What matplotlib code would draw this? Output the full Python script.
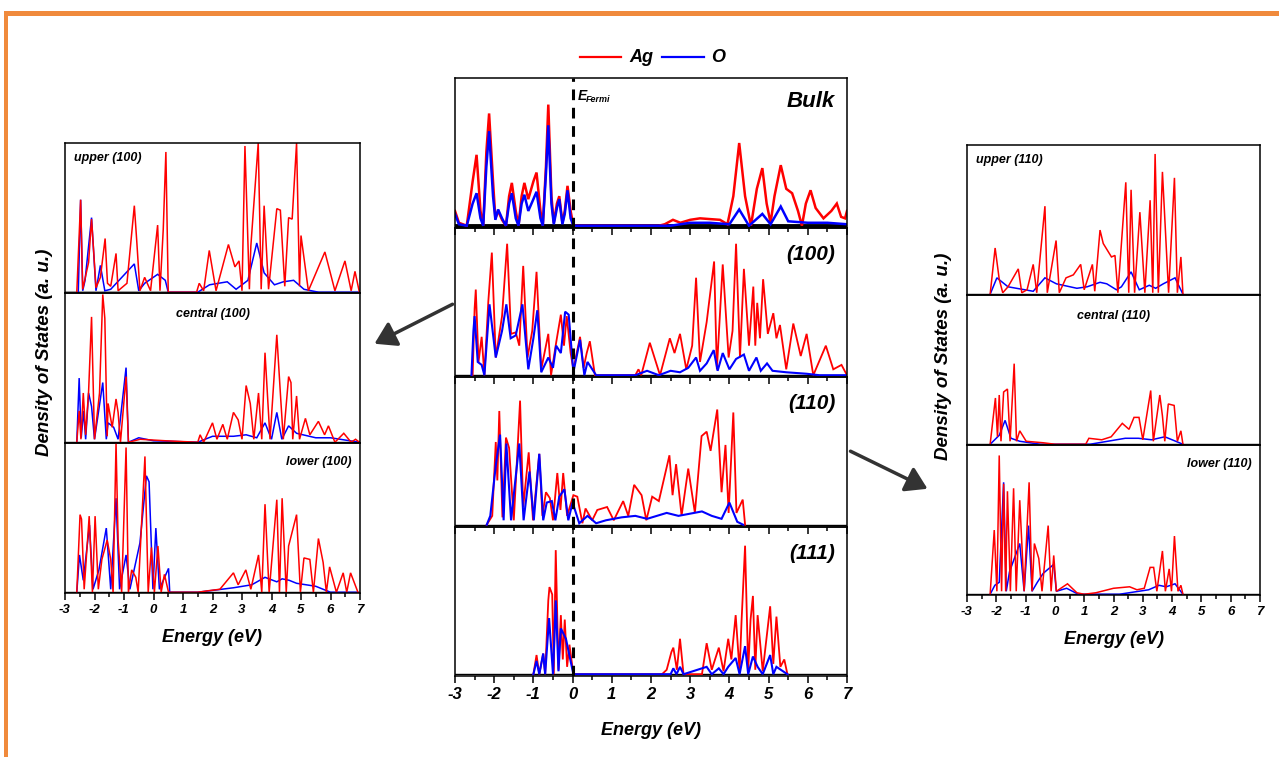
import numpy as np
import matplotlib
matplotlib.use("Agg")
import matplotlib.pyplot as plt
from matplotlib.patches import FancyArrowPatch, Rectangle
from matplotlib.ticker import MultipleLocator

plt.rcParams['font.family'] = ['Liberation Sans', 'DejaVu Sans']
plt.rcParams['font.weight'] = 'bold'
plt.rcParams['font.style'] = 'italic'
plt.rcParams['axes.labelweight'] = 'bold'
plt.rcParams['axes.unicode_minus'] = False

# ---- data: (energy eV, DOS a.u.) ----
bulk_ag = [(-3.0,0.10),(-2.9,0.02),(-2.7,0.0),(-2.55,0.3),(-2.45,0.48),(-2.35,0.1),(-2.28,0.0),(-2.2,0.5),(-2.13,0.76),(-2.03,0.3),(-1.97,0.05),(-1.9,0.1),(-1.8,0.04),(-1.7,0.0),(-1.62,0.2),(-1.55,0.29),(-1.45,0.1),(-1.38,0.0),(-1.3,0.2),(-1.23,0.29),(-1.13,0.18),(-1.0,0.3),(-0.92,0.36),(-0.82,0.1),(-0.76,0.0),(-0.68,0.4),(-0.62,0.82),(-0.54,0.2),(-0.48,0.02),(-0.4,0.15),(-0.34,0.20),(-0.26,0.02),(-0.2,0.1),(-0.13,0.27),(-0.05,0.1),(0.02,0.0),(2.2,0.0),(2.35,0.01),(2.56,0.04),(2.75,0.02),(3.0,0.04),(3.25,0.05),(3.5,0.045),(3.76,0.04),(3.95,0.01),(4.1,0.2),(4.25,0.56),(4.4,0.2),(4.55,0.0),(4.7,0.25),(4.84,0.39),(4.95,0.15),(5.05,0.02),(5.15,0.2),(5.31,0.41),(5.45,0.25),(5.6,0.22),(5.75,0.1),(5.85,0.0),(5.95,0.15),(6.07,0.24),(6.2,0.12),(6.4,0.05),(6.6,0.1),(6.74,0.15),(6.85,0.06),(6.95,0.05),(7.0,0.1)]
bulk_o = [(-3.0,0.08),(-2.9,0.01),(-2.7,0.0),(-2.55,0.15),(-2.45,0.22),(-2.35,0.05),(-2.28,0.0),(-2.2,0.4),(-2.13,0.64),(-2.03,0.2),(-1.97,0.04),(-1.9,0.11),(-1.8,0.05),(-1.7,0.0),(-1.62,0.15),(-1.55,0.22),(-1.45,0.05),(-1.38,0.0),(-1.3,0.15),(-1.23,0.21),(-1.13,0.1),(-1.0,0.18),(-0.92,0.23),(-0.82,0.05),(-0.76,0.0),(-0.68,0.35),(-0.62,0.68),(-0.54,0.15),(-0.48,0.01),(-0.4,0.12),(-0.34,0.18),(-0.26,0.01),(-0.2,0.08),(-0.13,0.24),(-0.05,0.05),(0.02,0.0),(2.5,0.0),(3.0,0.02),(3.5,0.02),(4.0,0.01),(4.25,0.11),(4.5,0.0),(4.84,0.08),(5.05,0.01),(5.31,0.13),(5.5,0.03),(6.0,0.02),(6.5,0.02),(7.0,0.01)]

s100_ag = [(-2.55,0.0),(-2.5,0.45),(-2.47,0.58),(-2.4,0.09),(-2.32,0.26),(-2.25,0.0),(-2.15,0.5),(-2.06,0.83),(-1.96,0.12),(-1.8,0.4),(-1.67,0.89),(-1.57,0.28),(-1.45,0.29),(-1.36,0.2),(-1.26,0.74),(-1.15,0.12),(-1.03,0.3),(-0.92,0.70),(-0.8,0.04),(-0.62,0.28),(-0.55,0.0),(-0.42,0.22),(-0.30,0.41),(-0.22,0.2),(-0.15,0.40),(-0.05,0.15),(0.02,0.04),(0.19,0.26),(0.28,0.05),(0.36,0.15),(0.44,0.23),(0.57,0.0),(1.6,0.0),(1.68,0.04),(1.75,0.0),(1.97,0.22),(2.23,0.0),(2.48,0.25),(2.6,0.15),(2.74,0.28),(2.9,0.04),(3.05,0.2),(3.15,0.66),(3.25,0.09),(3.42,0.36),(3.61,0.77),(3.68,0.04),(3.83,0.75),(3.98,0.12),(4.08,0.3),(4.17,0.89),(4.27,0.12),(4.37,0.72),(4.5,0.2),(4.61,0.60),(4.66,0.2),(4.71,0.49),(4.78,0.25),(4.86,0.65),(4.98,0.28),(5.12,0.42),(5.2,0.25),(5.29,0.34),(5.45,0.04),(5.63,0.35),(5.82,0.13),(5.97,0.28),(6.14,0.0),(6.3,0.1),(6.46,0.20),(6.65,0.04),(6.86,0.07),(7.0,0.0)]
s100_o = [(-2.58,0.0),(-2.53,0.3),(-2.5,0.40),(-2.42,0.09),(-2.32,0.07),(-2.25,0.0),(-2.12,0.48),(-1.96,0.12),(-1.8,0.3),(-1.69,0.48),(-1.58,0.25),(-1.45,0.27),(-1.28,0.48),(-1.13,0.04),(-1.0,0.25),(-0.9,0.44),(-0.8,0.02),(-0.62,0.12),(-0.5,0.05),(-0.42,0.2),(-0.3,0.15),(-0.19,0.43),(-0.1,0.41),(0.02,0.02),(0.19,0.24),(0.3,0.0),(0.38,0.09),(0.6,0.0),(1.6,0.0),(1.9,0.03),(2.2,0.0),(2.5,0.03),(2.74,0.02),(2.95,0.05),(3.15,0.12),(3.25,0.03),(3.42,0.08),(3.6,0.17),(3.7,0.03),(3.83,0.15),(4.0,0.04),(4.17,0.11),(4.37,0.14),(4.5,0.03),(4.69,0.12),(4.8,0.03),(4.96,0.08),(5.1,0.03),(5.45,0.02),(5.97,0.01),(6.3,0.0),(7.0,0.0)]

s110_ag = [(-2.19,0.0),(-2.05,0.06),(-1.96,0.56),(-1.92,0.3),(-1.87,0.77),(-1.79,0.05),(-1.70,0.59),(-1.62,0.52),(-1.5,0.03),(-1.34,0.84),(-1.26,0.12),(-1.12,0.49),(-1.01,0.03),(-0.85,0.48),(-0.77,0.06),(-0.68,0.22),(-0.58,0.18),(-0.5,0.03),(-0.39,0.35),(-0.31,0.1),(-0.24,0.35),(-0.14,0.06),(0.02,0.20),(0.12,0.19),(0.25,0.01),(0.33,0.11),(0.5,0.03),(0.63,0.10),(0.88,0.12),(1.05,0.03),(1.29,0.16),(1.42,0.06),(1.57,0.27),(1.76,0.20),(1.88,0.03),(2.03,0.19),(2.2,0.16),(2.47,0.47),(2.55,0.2),(2.64,0.41),(2.78,0.06),(2.95,0.38),(3.12,0.08),(3.29,0.60),(3.42,0.63),(3.52,0.50),(3.69,0.78),(3.8,0.22),(3.9,0.54),(3.98,0.08),(4.10,0.76),(4.18,0.08),(4.34,0.17),(4.4,0.0)]
s110_o = [(-2.19,0.0),(-2.1,0.06),(-1.96,0.40),(-1.85,0.61),(-1.76,0.03),(-1.69,0.55),(-1.57,0.03),(-1.36,0.55),(-1.25,0.03),(-1.1,0.36),(-0.99,0.03),(-0.85,0.48),(-0.75,0.03),(-0.66,0.15),(-0.53,0.16),(-0.44,0.03),(-0.34,0.19),(-0.21,0.24),(-0.11,0.03),(0.0,0.15),(0.17,0.01),(0.38,0.06),(0.6,0.01),(0.85,0.03),(1.25,0.05),(1.6,0.06),(1.9,0.04),(2.4,0.08),(2.7,0.06),(3.1,0.08),(3.3,0.09),(3.55,0.06),(3.8,0.04),(4.0,0.15),(4.2,0.02),(4.35,0.0)]

s111_ag = [(-1.0,0.0),(-0.92,0.13),(-0.85,0.0),(-0.75,0.14),(-0.7,0.0),(-0.62,0.5),(-0.59,0.59),(-0.52,0.54),(-0.48,0.0),(-0.43,0.84),(-0.36,0.03),(-0.3,0.40),(-0.25,0.1),(-0.2,0.37),(-0.14,0.05),(-0.08,0.20),(0.02,0.0),(2.28,0.0),(2.4,0.03),(2.52,0.15),(2.57,0.18),(2.66,0.03),(2.74,0.24),(2.83,0.0),(3.3,0.0),(3.42,0.21),(3.55,0.03),(3.73,0.18),(3.85,0.02),(3.97,0.24),(4.05,0.1),(4.16,0.40),(4.26,0.02),(4.31,0.36),(4.40,0.87),(4.48,0.03),(4.54,0.37),(4.6,0.53),(4.66,0.03),(4.72,0.40),(4.85,0.02),(5.04,0.46),(5.12,0.07),(5.2,0.39),(5.3,0.05),(5.4,0.10),(5.48,0.0)]
s111_o = [(-1.0,0.0),(-0.92,0.09),(-0.85,0.0),(-0.75,0.14),(-0.7,0.0),(-0.6,0.38),(-0.5,0.0),(-0.43,0.50),(-0.36,0.02),(-0.3,0.31),(-0.17,0.24),(-0.06,0.1),(0.02,0.0),(2.5,0.0),(2.57,0.04),(2.65,0.0),(2.74,0.05),(2.83,0.0),(3.42,0.05),(3.55,0.0),(3.73,0.04),(3.85,0.0),(3.97,0.05),(4.16,0.11),(4.26,0.0),(4.40,0.19),(4.48,0.0),(4.6,0.12),(4.72,0.05),(4.85,0.0),(5.04,0.13),(5.12,0.0),(5.2,0.05),(5.48,0.0)]

up100_ag = [(-2.60,0.0),(-2.47,0.62),(-2.4,0.02),(-2.2,0.2),(-2.10,0.49),(-2.03,0.28),(-1.95,0.03),(-1.8,0.1),(-1.64,0.36),(-1.56,0.06),(-1.45,0.04),(-1.27,0.26),(-1.2,0.01),(-0.9,0.06),(-0.65,0.58),(-0.57,0.35),(-0.46,0.01),(-0.3,0.10),(-0.1,0.01),(0.14,0.45),(0.22,0.01),(0.33,0.42),(0.42,0.94),(0.5,0.0),(1.46,0.0),(1.55,0.06),(1.7,0.01),(1.89,0.28),(2.12,0.01),(2.54,0.32),(2.76,0.17),(2.9,0.21),(3.0,0.01),(3.10,0.98),(3.25,0.02),(3.3,0.31),(3.55,1.0),(3.65,0.02),(3.75,0.58),(3.9,0.02),(4.18,0.56),(4.3,0.55),(4.45,0.04),(4.58,0.50),(4.7,0.49),(4.85,1.0),(4.95,0.04),(5.0,0.38),(5.25,0.01),(5.81,0.27),(6.15,0.01),(6.49,0.21),(6.7,0.01),(6.83,0.14),(6.98,0.0)]
up100_o = [(-2.55,0.0),(-2.47,0.62),(-2.4,0.01),(-2.32,0.08),(-2.1,0.50),(-1.95,0.01),(-1.8,0.18),(-1.65,0.01),(-1.45,0.02),(-0.65,0.19),(-0.5,0.01),(-0.3,0.06),(0.14,0.12),(0.4,0.08),(0.5,0.0),(1.5,0.0),(1.9,0.05),(2.5,0.07),(2.8,0.02),(3.2,0.08),(3.5,0.33),(3.75,0.13),(4.1,0.05),(4.4,0.07),(4.75,0.08),(5.1,0.02),(5.6,0.0),(6.5,0.0),(6.98,0.0)]

cen100_ag = [(-2.60,0.0),(-2.52,0.21),(-2.46,0.02),(-2.38,0.33),(-2.3,0.05),(-2.2,0.34),(-2.10,0.84),(-2.0,0.02),(-1.83,0.33),(-1.72,0.99),(-1.65,0.83),(-1.57,0.04),(-1.54,0.26),(-1.40,0.1),(-1.27,0.29),(-1.2,0.2),(-1.12,0.0),(-0.93,0.44),(-0.85,0.0),(-0.45,0.02),(0.4,0.01),(1.5,0.0),(1.58,0.05),(1.7,0.0),(2.0,0.13),(2.15,0.02),(2.35,0.12),(2.5,0.02),(2.71,0.20),(2.87,0.15),(3.0,0.02),(3.14,0.38),(3.28,0.26),(3.4,0.02),(3.56,0.33),(3.67,0.02),(3.78,0.60),(3.95,0.02),(4.18,0.72),(4.3,0.33),(4.4,0.02),(4.58,0.44),(4.66,0.40),(4.72,0.02),(4.85,0.31),(4.95,0.02),(5.15,0.16),(5.3,0.05),(5.59,0.14),(5.8,0.05),(5.93,0.11),(6.15,0.0),(6.45,0.06),(6.7,0.0),(6.85,0.02),(6.98,0.0)]
cen100_o = [(-2.6,0.0),(-2.52,0.43),(-2.45,0.03),(-2.37,0.21),(-2.3,0.02),(-2.2,0.33),(-2.1,0.24),(-2.0,0.02),(-1.72,0.40),(-1.6,0.02),(-1.54,0.13),(-1.35,0.1),(-1.2,0.02),(-0.93,0.50),(-0.85,0.0),(-0.5,0.03),(0.0,0.01),(1.5,0.0),(2.0,0.04),(2.71,0.04),(3.14,0.05),(3.5,0.03),(3.78,0.13),(4.0,0.02),(4.18,0.20),(4.35,0.02),(4.58,0.11),(4.85,0.06),(5.5,0.03),(6.0,0.03),(6.98,0.0)]

low100_ag = [(-2.60,0.0),(-2.49,0.52),(-2.44,0.49),(-2.35,0.02),(-2.18,0.51),(-2.07,0.0),(-1.98,0.51),(-1.87,0.02),(-1.75,0.22),(-1.57,0.35),(-1.45,0.22),(-1.37,0.0),(-1.27,1.0),(-1.2,0.35),(-1.08,0.0),(-0.93,0.97),(-0.85,0.0),(-0.74,0.15),(-0.6,0.1),(-0.52,0.0),(-0.46,0.24),(-0.29,0.91),(-0.18,0.0),(-0.07,0.30),(0.03,0.0),(0.15,0.31),(0.26,0.0),(0.37,0.12),(0.51,0.0),(1.5,0.0),(1.85,0.01),(2.25,0.02),(2.71,0.13),(2.87,0.05),(3.13,0.15),(3.3,0.02),(3.56,0.25),(3.67,0.0),(3.78,0.59),(3.92,0.0),(4.18,0.62),(4.27,0.0),(4.36,0.63),(4.5,0.0),(4.58,0.31),(4.85,0.52),(4.98,0.0),(5.1,0.23),(5.3,0.22),(5.42,0.0),(5.59,0.36),(5.75,0.20),(5.86,0.0),(5.97,0.17),(6.2,0.0),(6.43,0.13),(6.55,0.0),(6.68,0.13),(6.93,0.0)]
low100_o = [(-2.60,0.0),(-2.51,0.25),(-2.38,0.08),(-2.17,0.45),(-2.05,0.02),(-1.85,0.15),(-1.6,0.43),(-1.45,0.02),(-1.27,0.63),(-1.15,0.02),(-0.93,0.25),(-0.8,0.02),(-0.46,0.33),(-0.24,0.78),(-0.15,0.74),(-0.02,0.02),(0.08,0.43),(0.2,0.02),(0.51,0.16),(0.55,0.0),(1.5,0.0),(2.71,0.03),(3.33,0.05),(3.78,0.10),(4.18,0.07),(4.36,0.09),(4.6,0.08),(4.85,0.06),(5.5,0.04),(6.0,0.0),(6.93,0.0)]

up110_ag = [(-2.21,0.0),(-2.04,0.31),(-1.9,0.1),(-1.78,0.01),(-1.6,0.05),(-1.25,0.17),(-1.13,0.01),(-0.95,0.03),(-0.74,0.20),(-0.62,0.01),(-0.34,0.59),(-0.26,0.01),(0.04,0.36),(0.15,0.01),(0.38,0.11),(0.63,0.13),(0.88,0.20),(1.0,0.03),(1.28,0.20),(1.36,0.02),(1.54,0.43),(1.65,0.34),(1.93,0.25),(2.05,0.26),(2.15,0.01),(2.42,0.75),(2.52,0.01),(2.6,0.70),(2.72,0.01),(2.90,0.55),(3.07,0.01),(3.25,0.63),(3.34,0.01),(3.42,0.94),(3.53,0.01),(3.67,0.82),(3.88,0.01),(4.08,0.78),(4.18,0.01),(4.3,0.25),(4.37,0.0)]
up110_o = [(-2.21,0.0),(-1.98,0.11),(-1.6,0.05),(-0.74,0.02),(-0.34,0.11),(0.05,0.07),(0.75,0.04),(1.1,0.05),(1.54,0.08),(1.77,0.07),(2.1,0.03),(2.27,0.05),(2.6,0.15),(2.88,0.03),(3.22,0.06),(3.44,0.04),(3.7,0.07),(4.1,0.11),(4.37,0.0)]

cen110_ag = [(-2.21,0.0),(-2.03,0.31),(-1.96,0.05),(-1.9,0.33),(-1.84,0.02),(-1.75,0.35),(-1.62,0.37),(-1.53,0.02),(-1.39,0.54),(-1.31,0.02),(-1.2,0.09),(-0.98,0.02),(-0.4,0.01),(0.0,0.0),(1.05,0.0),(1.16,0.04),(1.6,0.03),(1.92,0.05),(2.3,0.14),(2.53,0.10),(2.7,0.18),(2.87,0.18),(3.0,0.03),(3.27,0.36),(3.36,0.02),(3.58,0.33),(3.67,0.19),(3.75,0.02),(3.87,0.27),(4.07,0.26),(4.18,0.02),(4.3,0.09),(4.37,0.0)]
cen110_o = [(-2.21,0.0),(-1.9,0.06),(-1.7,0.16),(-1.5,0.04),(-1.2,0.02),(-0.5,0.0),(1.2,0.0),(2.4,0.04),(2.85,0.04),(3.3,0.03),(3.75,0.05),(4.0,0.03),(4.37,0.0)]

low110_ag = [(-2.21,0.0),(-2.07,0.43),(-1.98,0.02),(-1.9,0.93),(-1.82,0.02),(-1.75,0.74),(-1.68,0.02),(-1.62,0.69),(-1.52,0.02),(-1.41,0.71),(-1.32,0.02),(-1.2,0.63),(-1.05,0.02),(-0.88,0.75),(-0.78,0.02),(-0.7,0.34),(-0.55,0.24),(-0.44,0.02),(-0.23,0.46),(-0.13,0.02),(-0.04,0.26),(0.05,0.02),(0.43,0.07),(0.75,0.01),(1.0,0.0),(1.4,0.01),(2.0,0.04),(2.55,0.05),(2.8,0.03),(3.05,0.04),(3.25,0.18),(3.37,0.18),(3.48,0.02),(3.67,0.29),(3.77,0.02),(3.9,0.17),(3.98,0.02),(4.08,0.39),(4.2,0.02),(4.3,0.06),(4.37,0.0)]
low110_o = [(-2.21,0.0),(-2.05,0.06),(-1.9,0.08),(-1.75,0.75),(-1.66,0.02),(-1.55,0.15),(-1.2,0.34),(-1.05,0.02),(-0.9,0.46),(-0.78,0.02),(-0.6,0.08),(-0.4,0.14),(-0.04,0.2),(0.05,0.02),(0.4,0.04),(0.8,0.0),(2.2,0.0),(3.2,0.03),(3.55,0.06),(3.8,0.05),(4.1,0.07),(4.37,0.0)]

center_labels = ['Bulk', '(100)', '(110)', '(111)']
left_labels = ['upper (100)', 'central (100)', 'lower (100)']
right_labels = ['upper (110)', 'central (110)', 'lower (110)']

RED = '#ff0000'
BLUE = '#0000ff'
W, H = 1279, 757

fig = plt.figure(figsize=(W / 100, H / 100), dpi=100)


def box(x0, y0, x1, y1):
    # pixel box (top-left origin) -> figure fraction rect
    return [x0 / W, 1 - y1 / H, (x1 - x0) / W, (y1 - y0) / H]


def xy(x, y):
    return (x / W, 1 - y / H)


def curve(ax, pts, color, lw):
    e, v = np.array(pts).T
    ax.plot(e, v, color=color, lw=lw, solid_joinstyle='miter')


def style(ax, ticks, labels, tick_size, ylo):
    ax.set_xlim(-3, 7)
    ax.set_ylim(ylo, 1.0)
    ax.patch.set_visible(False)
    ax.set_yticks([])
    ax.xaxis.set_major_locator(MultipleLocator(1))
    ax.xaxis.set_minor_locator(MultipleLocator(0.5))
    ax.tick_params(axis='x', which='major', direction='out', length=5 if ticks else 0, width=1.1)
    ax.tick_params(axis='x', which='minor', direction='out', length=3 if ticks else 0, width=1.1)
    for s in ax.spines.values():
        s.set_linewidth(1.1)
    if labels:
        ax.tick_params(axis='x', labelsize=tick_size, pad=3)
    else:
        ax.tick_params(axis='x', labelbottom=False)


# ---- centre column ----
c_series = [(bulk_ag, bulk_o), (s100_ag, s100_o), (s110_ag, s110_o), (s111_ag, s111_o)]
c_top, c_h = 78, 149.5
for i, (ag, o) in enumerate(c_series):
    y0 = c_top + i * c_h
    ax = fig.add_axes(box(455, y0, 847, y0 + c_h))
    style(ax, True, i == 3, 12, -0.012)
    if i == 0:
        ax.axhline(0, color='black', lw=3.5, zorder=1)
    else:
        ax.axhline(0, color='black', lw=1.0, zorder=1)
    curve(ax, ag, RED, 1.8 if i == 0 else 1.3)
    curve(ax, o, BLUE, 1.8 if i == 0 else 1.5)
    ax.axvline(0, color='black', ls=(0, (3.5, 2.5)), lw=2.2, zorder=5)
    if i == 0:
        ax.text(0.97, 0.84, center_labels[i], transform=ax.transAxes,
                ha='right', va='center', fontsize=16)
        ax.text(0.12, 0.88, 'E', transform=ax.transData, ha='left', va='center', fontsize=10)
        ax.text(0.35, 0.855, 'Fermi', transform=ax.transData, ha='left', va='center', fontsize=6.5)
    else:
        ax.text(0.97, 0.82, center_labels[i], transform=ax.transAxes,
                ha='right', va='center', fontsize=15)
    if i == 3:
        ax.set_xlabel('Energy (eV)', fontsize=13, labelpad=14)


# ---- side columns ----
def side(x0, x1, top, series, labels, grey_top):
    ph = 150
    for i, (ag, o) in enumerate(series):
        y0 = top + i * ph
        ax = fig.add_axes(box(x0, y0, x1, y0 + ph))
        style(ax, i == 2, i == 2, 9.5, -0.005)
        base = '#9a9a9a' if (i == 0 and grey_top) else 'black'
        ax.axhline(0, color=base, lw=1.5 if base != 'black' else 1.0, zorder=1)
        curve(ax, o, BLUE, 1.1)
        curve(ax, ag, RED, 1.1)
        if i == 0:
            ax.text(0.03, 0.9, labels[i], transform=ax.transAxes, ha='left', va='center', fontsize=9)
        elif i == 1:
            ax.text(0.5, 0.86, labels[i], transform=ax.transAxes, ha='center', va='center', fontsize=9)
        else:
            ax.text(0.97, 0.87, labels[i], transform=ax.transAxes, ha='right', va='center', fontsize=9)
        if i == 2:
            ax.set_xlabel('Energy (eV)', fontsize=13, labelpad=9)


side(65, 360, 143, [(up100_ag, up100_o), (cen100_ag, cen100_o), (low100_ag, low100_o)], left_labels, True)
side(967, 1260, 145, [(up110_ag, up110_o), (cen110_ag, cen110_o), (low110_ag, low110_o)], right_labels, False)
fig.text(*xy(45, 352), 'Density of States (a. u.)', rotation=90, ha='center', va='center', fontsize=13.5)
fig.text(*xy(943, 356), 'Density of States (a. u.)', rotation=90, ha='center', va='center', fontsize=13.5)

# ---- legend at top ----
fig.add_artist(plt.Line2D([580 / W, 621 / W], [1 - 57 / H] * 2, color=RED, lw=1.6))
fig.text(*xy(629, 57), 'Ag', ha='left', va='center', fontsize=13)
fig.add_artist(plt.Line2D([662 / W, 704 / W], [1 - 57 / H] * 2, color=BLUE, lw=1.6))
fig.text(*xy(711, 57), 'O', ha='left', va='center', fontsize=13)

# ---- arrows ----
for (xa, ya), (xb, yb) in [((455, 303), (372, 345)), ((848, 450), (930, 490))]:
    fig.add_artist(FancyArrowPatch(xy(xa, ya), xy(xb, yb), transform=fig.transFigure,
                                   arrowstyle='-|>,head_length=8,head_width=5',
                                   color='#333333', lw=2.5, mutation_scale=1.6))

# ---- orange frame ----
fig.add_artist(Rectangle(xy(4, 16), 1 - 4 / W, 5 / H, transform=fig.transFigure,
                         color='#f08a3c', lw=0))
fig.add_artist(Rectangle(xy(4, 757), 4 / W, (757 - 11) / H, transform=fig.transFigure,
                         color='#f08a3c', lw=0))

fig.savefig('out.png', dpi=100)
